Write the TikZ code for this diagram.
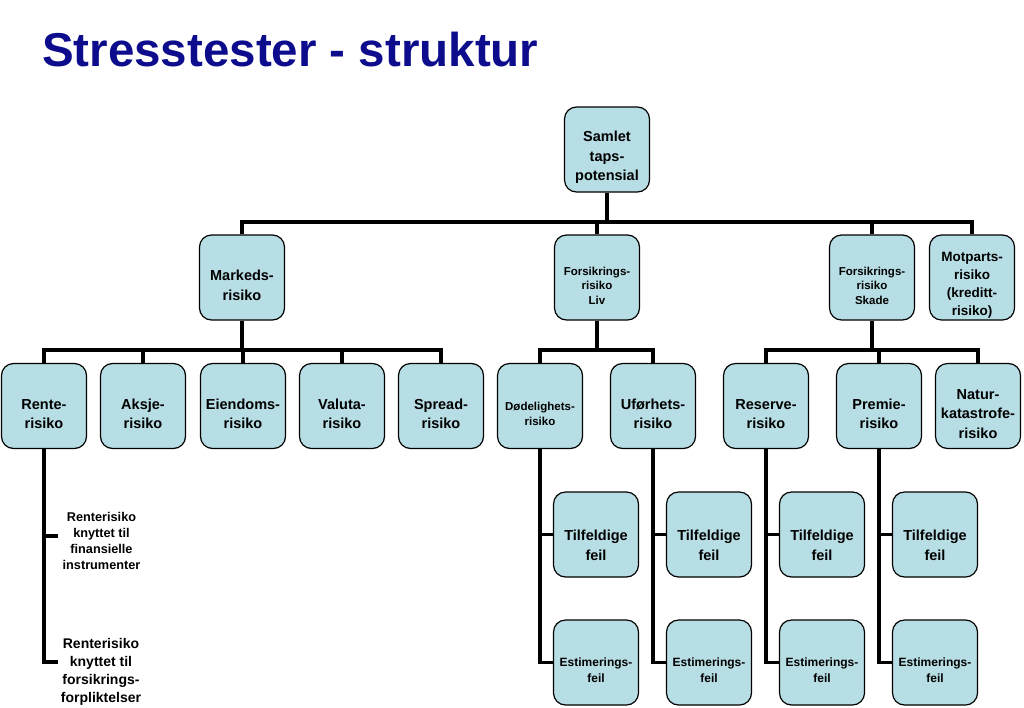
\documentclass[tikz,border=0pt]{standalone}
\usepackage{fontspec}
\setmainfont{Liberation Sans}
\usetikzlibrary{calc}
\definecolor{boxblue}{RGB}{183,222,228}
\definecolor{titleblue}{RGB}{12,12,140}
\begin{document}
\begin{tikzpicture}[x=1pt,y=-1pt,
  rbox/.style={draw=black, line width=1.2pt, fill=boxblue, rounded corners=12pt,
    minimum width=85pt, minimum height=85pt, inner sep=1pt},
  lab/.style={align=center, inner sep=0pt, yshift=-8pt,
    font=\bfseries\fontsize{14.5}{19.5}\selectfont},
  smallf/.style={font=\bfseries\fontsize{11.5}{14.5}\selectfont},
  estf/.style={font=\bfseries\fontsize{12}{16}\selectfont},
  motf/.style={font=\bfseries\fontsize{13.5}{18}\selectfont},
  tilf/.style={yshift=-3pt},
  plain/.style={align=center, inner sep=0pt, font=\bfseries\fontsize{12.7}{16}\selectfont},
  plainb/.style={align=center, inner sep=0pt, font=\bfseries\fontsize{14}{18}\selectfont},
  conn/.style={draw=black, line width=3.7pt, line join=miter}
]
\useasboundingbox (0,0) rectangle (1024,707);
\fill[white] (0,0) rectangle (1024,707);

% title
\node[anchor=base west, inner sep=0pt, text=titleblue,
  font=\bfseries\fontsize{47.5}{50}\selectfont] (title) at (42,66) {Stresstester - struktur};

% level 1
\node[rbox, label={[lab]center:Samlet\\taps-\\potensial}] (top) at (607,149.5) {};

% level 2
\node[rbox, label={[lab]center:Markeds-\\risiko}] (mark) at (242,277.5) {};
\node[rbox, label={[lab, smallf]center:Forsikrings-\\risiko\\Liv}] (liv) at (597,277.5) {};
\node[rbox, label={[lab, smallf]center:Forsikrings-\\risiko\\Skade}] (skade) at (872,277.5) {};
\node[rbox, label={[lab, motf]center:Motparts-\\risiko\\(kreditt-\\risiko)}] (mot) at (972,277.5) {};

% level 3
\node[rbox, label={[lab]center:Rente-\\risiko}] (rente) at (44,406) {};
\node[rbox, label={[lab]center:Aksje-\\risiko}] (aksje) at (143,406) {};
\node[rbox, label={[lab]center:Eiendoms-\\risiko}] (eiend) at (243,406) {};
\node[rbox, label={[lab]center:Valuta-\\risiko}] (valuta) at (342,406) {};
\node[rbox, label={[lab]center:Spread-\\risiko}] (spread) at (441,406) {};
\node[rbox, label={[lab, smallf]center:Dødelighets-\\risiko}] (dod) at (540,406) {};
\node[rbox, label={[lab]center:Uførhets-\\risiko}] (ufor) at (653,406) {};
\node[rbox, label={[lab]center:Reserve-\\risiko}] (res) at (766,406) {};
\node[rbox, label={[lab]center:Premie-\\risiko}] (prem) at (879,406) {};
\node[rbox, label={[lab]center:Natur-\\katastrofe-\\risiko}] (natur) at (978,406) {};

% level 4
\node[rbox, label={[lab, tilf]center:Tilfeldige\\feil}] (tf1) at (596,534.5) {};
\node[rbox, label={[lab, estf]center:Estimerings-\\feil}] (es1) at (596,662.5) {};
\node[rbox, label={[lab, tilf]center:Tilfeldige\\feil}] (tf2) at (709,534.5) {};
\node[rbox, label={[lab, estf]center:Estimerings-\\feil}] (es2) at (709,662.5) {};
\node[rbox, label={[lab, tilf]center:Tilfeldige\\feil}] (tf3) at (822,534.5) {};
\node[rbox, label={[lab, estf]center:Estimerings-\\feil}] (es3) at (822,662.5) {};
\node[rbox, label={[lab, tilf]center:Tilfeldige\\feil}] (tf4) at (935,534.5) {};
\node[rbox, label={[lab, estf]center:Estimerings-\\feil}] (es4) at (935,662.5) {};

% renterisiko texts
\node[plain] (rt1) at (101.5,541) {Renterisiko\\knyttet til\\finansielle\\instrumenter};
\node[plainb] (rt2) at (101,672) {Renterisiko\\knyttet til\\forsikrings-\\forpliktelser};
\coordinate (rt1tick) at (58,536);
\coordinate (rt2tick) at (58,662);

% bus coordinates
\coordinate (bus1) at (607,222);
\coordinate (bus2) at (242,350);
\coordinate (bus3) at (597,350);
\coordinate (bus4) at (872,350);

% connectors level 1-2
\draw[conn] (top.south) -- (bus1);
\draw[conn] (mark.north) |- (bus1) -| (mot.north);
\draw[conn] (liv.north) -- (liv.north |- bus1);
\draw[conn] (skade.north) -- (skade.north |- bus1);

% connectors level 2-3
\draw[conn] (mark.south) -- (bus2);
\draw[conn] (rente.north) |- (bus2) -| (spread.north);
\draw[conn] (aksje.north) -- (aksje.north |- bus2);
\draw[conn] (eiend.north) -- (eiend.north |- bus2);
\draw[conn] (valuta.north) -- (valuta.north |- bus2);

\draw[conn] (liv.south) -- (bus3);
\draw[conn] (dod.north) |- (bus3) -| (ufor.north);

\draw[conn] (skade.south) -- (bus4);
\draw[conn] (res.north) |- (bus4) -| (natur.north);
\draw[conn] (prem.north) -- (prem.north |- bus4);

% connectors level 3-4
\draw[conn] (rente.south) |- (rt2tick);
\draw[conn] (rente.south |- rt1tick) -- (rt1tick);
\draw[conn] (dod.south) |- (es1.west);
\draw[conn] (dod.south |- tf1.west) -- (tf1.west);
\draw[conn] (ufor.south) |- (es2.west);
\draw[conn] (ufor.south |- tf2.west) -- (tf2.west);
\draw[conn] (res.south) |- (es3.west);
\draw[conn] (res.south |- tf3.west) -- (tf3.west);
\draw[conn] (prem.south) |- (es4.west);
\draw[conn] (prem.south |- tf4.west) -- (tf4.west);
\end{tikzpicture}
\end{document}
